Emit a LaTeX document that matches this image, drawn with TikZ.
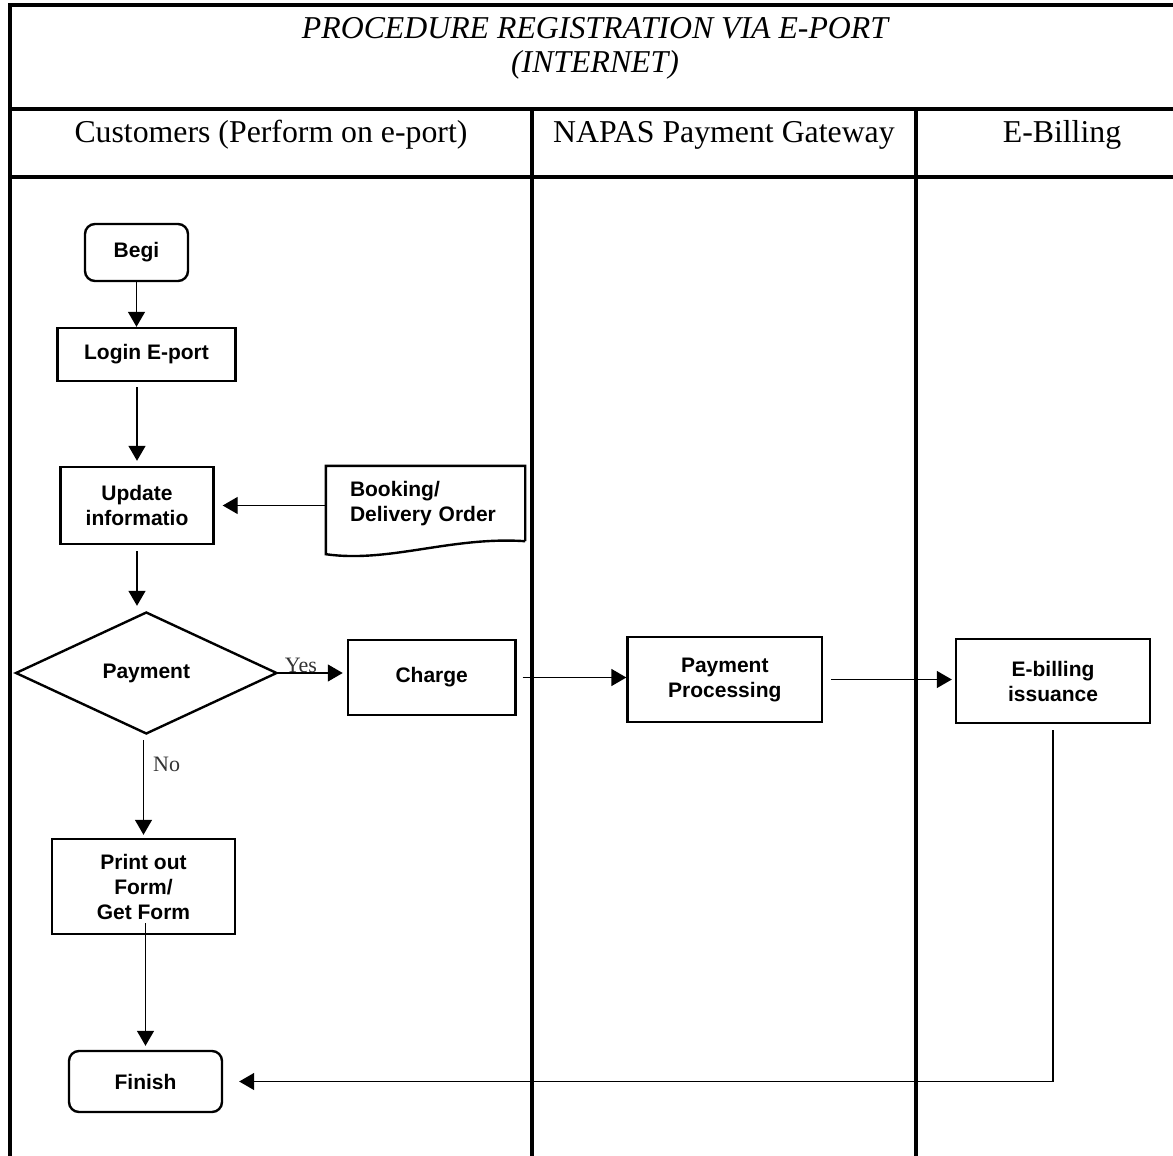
\documentclass[tikz,border=0pt]{standalone}
\usepackage{fontspec}
\setmainfont{Liberation Serif}
\newfontfamily\boxfont{Liberation Sans}
\usetikzlibrary{shapes.geometric, arrows.meta}
\tikzset{lane/.style={ % Frame and swimlane lines
line width=2pt},
box/.style={ % Sets the properties for each step
draw, line width=1.2pt, fill=white, align=center, inner sep=0pt,
font=\boxfont\bfseries\fontsize{10.5}{12.5}\selectfont},
term/.style={box, rounded corners=5pt}, % Begin and end
decision/.style={box, diamond, minimum width=130.75pt, minimum height=61pt},
flow/.style={ % Sets the properties for each connector
draw, -{Triangle[length=7.5pt,width=8.5pt]}, line width=0.7pt},
tag/.style={font=\fontsize{11}{13}\selectfont, inner sep=0.5pt, text=black!80},
lanehead/.style={font=\fontsize{15.9}{19}\selectfont}}

\begin{document}
\begin{tikzpicture}[x=0.5pt, y=-0.5pt] % one unit is one pixel, y grows downwards
    \useasboundingbox (0,0) rectangle (1173,1156);

    % frame and lanes
    \draw[lane] (10,1156) -- (10,5.5) -- (1173,5.5);
    \draw[lane] (10,109) -- (1173,109);
    \draw[lane] (10,177) -- (1173,177);
    \draw[lane] (532,109) -- (532,1156);
    \draw[lane] (916,109) -- (916,1156);

    \node[align=center, font=\itshape\fontsize{15.9}{17}\selectfont] (title) at (595,48)
        {PROCEDURE REGISTRATION VIA E-PORT\\(INTERNET)};
    \node[lanehead] (cust) at (271,135) {Customers (Perform on e-port)};
    \node[lanehead] (napas) at (724,135) {NAPAS Payment Gateway};
    \node[lanehead] (ebill) at (1062,135) {E-Billing};

    % steps
    \node[term, minimum width=51.5pt, minimum height=28.5pt] (begi) at (136.5,252.5) {Begi};
    \node[box, minimum width=89pt, minimum height=26.5pt] (login) at (146.5,354.5) {Login E-port};
    \node[box, minimum width=76.5pt, minimum height=38.5pt] (upd) at (137,505.5) {Update\\informatio};
    \node[box, draw=none, fill=none, align=left, text width=75.5pt, minimum width=98.5pt,
        minimum height=36.5pt] (bk) at (425.5,503.5) {Booking/\\Delivery Order};
    \node[decision] (pay) at (146.3,673) {Payment};
    \node[box, minimum width=83.75pt, minimum height=37.5pt] (charge) at (431.7,677.5) {Charge};
    \node[box, minimum width=97.25pt, minimum height=42.5pt] (proc) at (724.8,679.5) {Payment\\Processing};
    \node[box, minimum width=97pt, minimum height=42pt] (issue) at (1053,681) {E-billing\\issuance};
    \node[box, minimum width=91.5pt, minimum height=47.5pt] (print) at (143.5,886.5) {Print out\\Form/\\Get Form};
    \node[term, minimum width=76.5pt, minimum height=30.5pt] (finish) at (145.5,1081.5) {Finish};

    % document outline of the booking
    \draw[line width=1.2pt] (bk.south east) -- (bk.north east) -- (bk.north west)
        -- ([yshift=-6.5pt]bk.south west) .. controls +(31.5pt,-4.5pt) and +(-37pt,2.5pt) .. (bk.south east);

    % connectors
    \draw[flow] (begi.south) -- (begi.south |- login.north);
    \draw[flow, shorten <=2.5pt, shorten >=2.5pt] (upd.north |- login.south) -- (upd.north);
    \draw[flow, shorten >=4pt] (bk.west |- upd.east) -- (upd.east);
    \draw[flow, shorten <=3pt, shorten >=2.5pt] (upd.south) -- (upd.south |- pay.north);
    \draw[flow, shorten >=2pt] (pay.east) -- (pay.east -| charge.west)
        node[tag, pos=0.33, above=-0.5pt] {Yes};
    \draw[flow, shorten <=3pt] (charge.east) -- (charge.east -| proc.west);
    \draw[flow, shorten <=4pt, shorten >=1.5pt] (proc.east) -- (proc.east -| issue.west);
    \draw[flow, shorten <=2.5pt, shorten >=1.5pt] (print.north |- pay.south) -- (print.north)
        node[tag, pos=0.28, right=4pt] {No};
    \draw[flow, shorten <=-6pt, shorten >=2pt] (finish.north |- print.south) -- (finish.north);
    \draw[flow, shorten <=3pt, shorten >=8pt] (issue.south) -- (issue.south |- finish.east) -- (finish.east);

\end{tikzpicture}
\end{document}
